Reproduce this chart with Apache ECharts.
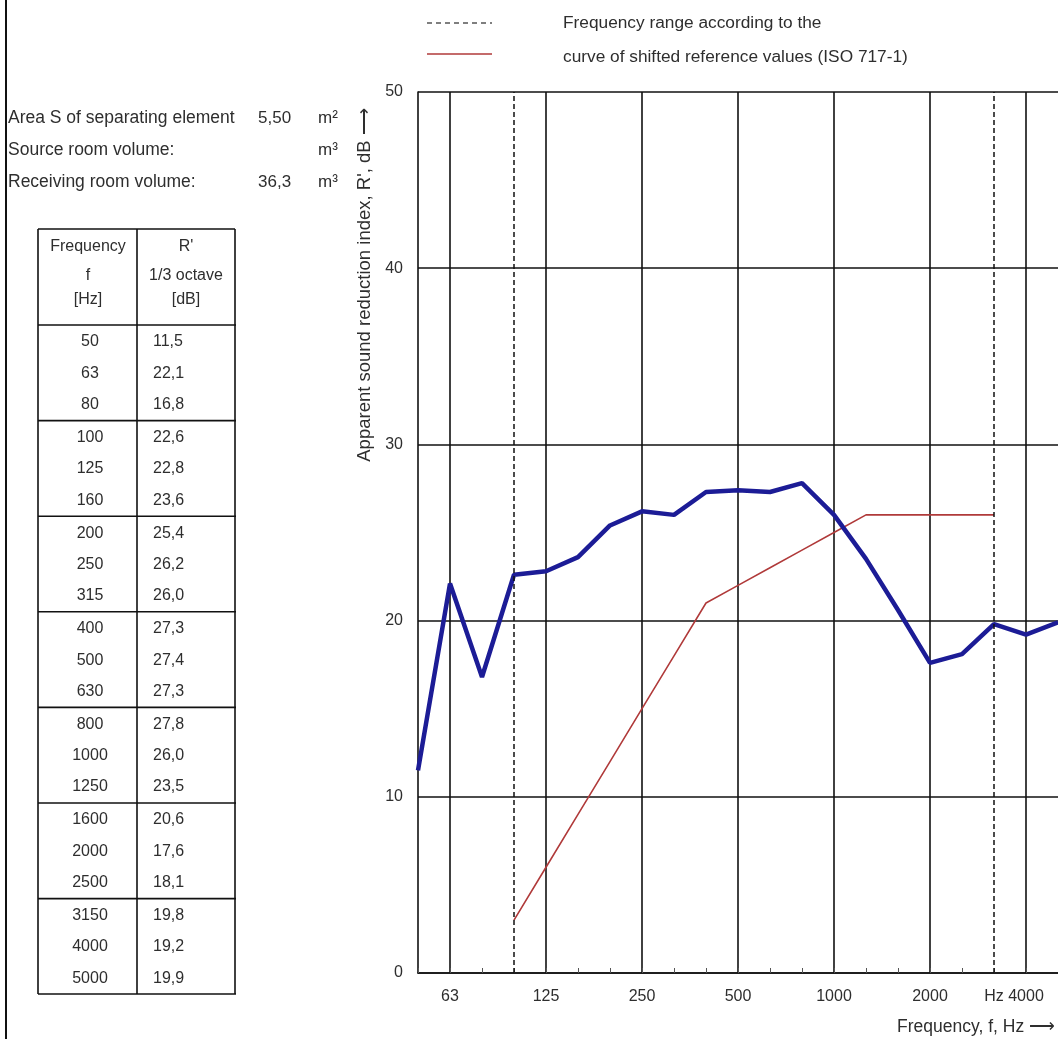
<!DOCTYPE html>
<html><head><meta charset="utf-8">
<script src="https://cdn.jsdelivr.net/npm/echarts@6/dist/echarts.min.js"></script>
<style>html,body{margin:0;padding:0;background:#fff}#c{width:1058px;height:1039px}</style>
</head><body><div id="c"></div>
<script>
// ---- data ----
const frequencies = ['50','63','80','100','125','160','200','250','315','400','500','630','800','1000','1250','1600','2000','2500','3150','4000','5000'];
const measuredR = [11.5,22.1,16.8,22.6,22.8,23.6,25.4,26.2,26.0,27.3,27.4,27.3,27.8,26.0,23.5,20.6,17.6,18.1,19.8,19.2,19.9];
const shiftedReference = [null,null,null,3,6,9,12,15,18,21,22,23,24,25,26,26,26,26,26,null,null];
const xTickLabels = {'63':'63','125':'125','250':'250','500':'500','1000':'1000','2000':'2000','3150':'Hz','4000':'4000'};
const gridFrequencies = ['63','125','250','500','1000','2000','4000'];
const rangeFrequencies = ['100','3150'];
const yMin = 0, yMax = 50, yInterval = 10;
const infoLabels = ['Area S of separating element','Source room volume:','Receiving room volume:'];
const infoValues = ['5,50','','36,3'];
const infoUnits = ['m²','m³','m³'];
const headerFreq = ['Frequency','f','[Hz]'];
const headerR = ["R'",'1/3 octave','[dB]'];
const legendTexts = ['Frequency range according to the','curve of shifted reference values (ISO 717-1)'];
const yTitle = "Apparent sound reduction index, R', dB ⟶";
const xTitle = 'Frequency, f, Hz ⟶';

// ---- styles ----
const FONT = '"Liberation Sans", Arial, sans-serif';
const TXT = '#2e2e2e';
const fmt = v => v.toFixed(1).replace('.', ',');

const g = [];
// left frame
g.push({type:'line', shape:{x1:6,y1:0,x2:6,y2:1039}, style:{stroke:'#111', lineWidth:2}});
// info block
const infoY = [118,150,182];
infoLabels.forEach((t,i)=>{
  g.push({type:'text', x:8, y:infoY[i], style:{text:t, font:'17.5px '+FONT, fill:TXT, align:'left', verticalAlign:'middle'}});
  if (infoValues[i]) g.push({type:'text', x:258, y:infoY[i], style:{text:infoValues[i], font:'17px '+FONT, fill:TXT, align:'left', verticalAlign:'middle'}});
  g.push({type:'text', x:318, y:infoY[i], style:{text:infoUnits[i], font:'17px '+FONT, fill:TXT, align:'left', verticalAlign:'middle'}});
});
// table
const tL=38, tM=137, tR=235, tTop=229, tHead=325, gH=95.6, tBot=994;
[tL,tM,tR].forEach(x=>g.push({type:'line', shape:{x1:x,y1:tTop,x2:x,y2:tBot}, style:{stroke:'#111', lineWidth:1.6}}));
g.push({type:'line', shape:{x1:tL,y1:tTop,x2:tR,y2:tTop}, style:{stroke:'#111', lineWidth:1.6}});
for (let k=0;k<=7;k++){
  const y = k===7 ? tBot : tHead + gH*k;
  g.push({type:'line', shape:{x1:tL,y1:y,x2:tR+1,y2:y}, style:{stroke:'#111', lineWidth:1.6}});
}
const headY=[247,276,300];
headerFreq.forEach((t,i)=>g.push({type:'text', x:88, y:headY[i], style:{text:t, font:'16px '+FONT, fill:TXT, align:'center', verticalAlign:'middle'}}));
headerR.forEach((t,i)=>g.push({type:'text', x:186, y:headY[i], style:{text:t, font:'16px '+FONT, fill:TXT, align:'center', verticalAlign:'middle'}}));
frequencies.forEach((f,i)=>{
  const gi=Math.floor(i/3), j=i%3;
  const y = tHead + gH*gi + 17 + 31.3*j;
  g.push({type:'text', x:90, y:y, style:{text:f, font:'16px '+FONT, fill:TXT, align:'center', verticalAlign:'middle'}});
  g.push({type:'text', x:153, y:y, style:{text:fmt(measuredR[i]), font:'16px '+FONT, fill:TXT, align:'left', verticalAlign:'middle'}});
});
// legend
g.push({type:'line', shape:{x1:427,y1:23,x2:492,y2:23}, style:{stroke:'#555', lineWidth:1.5, lineDash:[5,4]}});
g.push({type:'line', shape:{x1:427,y1:54,x2:492,y2:54}, style:{stroke:'#b03a3a', lineWidth:1.6}});
g.push({type:'text', x:563, y:23, style:{text:legendTexts[0], font:'17.3px '+FONT, fill:TXT, align:'left', verticalAlign:'middle'}});
g.push({type:'text', x:563, y:57, style:{text:legendTexts[1], font:'17.3px '+FONT, fill:TXT, align:'left', verticalAlign:'middle'}});
// axis titles
g.push({type:'text', x:365, y:285, rotation:Math.PI/2, style:{text:yTitle, font:'18.5px '+FONT, fill:TXT, align:'center', verticalAlign:'middle'}});
g.push({type:'text', x:1055, y:1027, style:{text:xTitle, font:'17.5px '+FONT, fill:TXT, align:'right', verticalAlign:'middle'}});

const chart = echarts.init(document.getElementById('c'), null, {renderer:'canvas'});
chart.setOption({
  backgroundColor:'#fff',
  animation:false,
  grid:{left:418, top:92, right:-2, bottom:66, containLabel:false},
  xAxis:{
    type:'category', data:frequencies, boundaryGap:false,
    axisLine:{show:true, lineStyle:{color:'#111', width:1.6}},
    axisTick:{show:true, inside:true, length:5, interval:0, lineStyle:{color:'#555', width:1}},
    axisLabel:{interval:(i,v)=>v in xTickLabels, formatter:v=>xTickLabels[v]||'', color:TXT, fontSize:16, fontFamily:FONT, margin:16},
    splitLine:{show:true, interval:(i,v)=>gridFrequencies.includes(v), lineStyle:{color:'#111', width:1.6}}
  },
  yAxis:{
    type:'value', min:yMin, max:yMax, interval:yInterval,
    axisLine:{show:true, lineStyle:{color:'#111', width:1.6}},
    axisTick:{show:false},
    axisLabel:{color:TXT, fontSize:16, fontFamily:FONT, margin:15},
    splitLine:{show:true, lineStyle:{color:'#111', width:1.6}}
  },
  series:[
    {type:'line', data:[], markLine:{silent:true, symbol:['none','none'], label:{show:false},
      lineStyle:{color:'#111', width:1.5, type:[5,3]},
      data:rangeFrequencies.map(f=>({xAxis:f}))}},
    {type:'line', data:shiftedReference, showSymbol:false, connectNulls:false, lineStyle:{color:'#b03a3a', width:1.6}, z:3},
    {type:'line', data:measuredR, showSymbol:false, lineStyle:{color:'#1c1c96', width:4.5}, z:4}
  ],
  graphic:g
});
</script></body></html>
